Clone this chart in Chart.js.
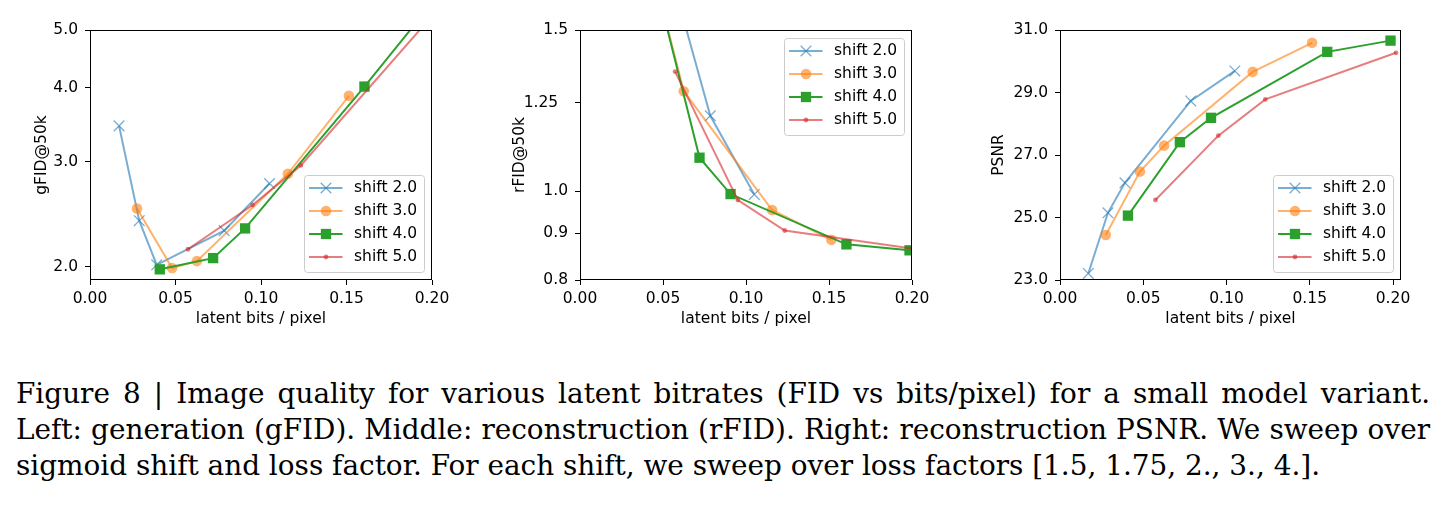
<!DOCTYPE html>
<html>
<head>
<meta charset="utf-8">
<script src="https://cdn.jsdelivr.net/npm/chart.js@4.4.1/dist/chart.umd.min.js"></script>
<style>
  body { margin: 0; background: #fff; width: 1448px; height: 508px; overflow: hidden; position: relative; }
  canvas { position: absolute; top: 0; }
  #caption { position: absolute; left: 16px; top: 376px; width: 1414px; font-family: "DejaVu Serif"; font-size: 27.9px; line-height: 36px; color: #000; }
  .j { text-align: justify; text-align-last: justify; }
</style>
</head>
<body>
<canvas id="gfid" width="460" height="335" style="left:0px"></canvas>
<canvas id="rfid" width="460" height="335" style="left:480px"></canvas>
<canvas id="psnr" width="470" height="335" style="left:960px"></canvas>
<div id="caption">
  <div class="j">Figure 8 | Image quality for various latent bitrates (FID vs bits/pixel) for a small model variant.</div>
  <div class="j">Left: generation (gFID). Middle: reconstruction (rFID). Right: reconstruction PSNR. We sweep over</div>
  <div>sigmoid shift and loss factor. For each shift, we sweep over loss factors [1.5, 1.75, 2., 3., 4.].</div>
</div>
<script>
// latent bits / pixel for each shift (one point per loss factor)
const bpp2 = [0.017, 0.0288, 0.039, 0.0785, 0.105];
const bpp3 = [0.0275, 0.048, 0.0625, 0.1157, 0.1514];
const bpp4 = [0.0408, 0.072, 0.0907, 0.1605, 0.1985];
const bpp5 = [0.0573, 0.0951, 0.1233, 0.2018];

// gFID@50k
const gfid2 = [3.45, 2.39, 2.015, 2.30, 2.76];
const gfid3 = [2.506, 1.99, 2.044, 2.866, 3.876];
const gfid4 = [1.98, 2.068, 2.32, 4.017, 5.48];
const gfid5 = [2.14, 2.54, 2.96, 5.35];

// rFID@50k
const rfid2 = [3.6, 2.8, 2.19, 1.209, 0.992];
const rfid3 = [2.6, 1.63, 1.286, 0.954, 0.885];
const rfid4 = [1.83, 1.088, 0.993, 0.875, 0.862];
const rfid5 = [1.351, 0.978, 0.906, 0.865];

// PSNR
const psnr2 = [23.21, 25.15, 26.11, 28.73, 29.69];
const psnr3 = [24.44, 26.47, 27.30, 29.66, 30.59];
const psnr4 = [25.06, 27.41, 28.19, 30.30, 30.66];
const psnr5 = [25.56, 27.62, 28.78, 30.27];

const seriesLabels = ["shift 2.0", "shift 3.0", "shift 4.0", "shift 5.0"];
const xTicks = [0, 0.05, 0.1, 0.15, 0.2];
const gfidTicks = [2, 3, 4, 5];
const gfidTickLabels = ["2.0", "3.0", "4.0", "5.0"];
const rfidTicks = [0.8, 0.9, 1.0, 1.25, 1.5];
const rfidTickLabels = ["0.8", "0.9", "1.0", "1.25\u2007", "1.5"];
const psnrTicks = [23, 25, 27, 29, 31];
const psnrTickLabels = ["23.0", "25.0", "27.0", "29.0", "31.0"];

const bpps = [bpp2, bpp3, bpp4, bpp5];

const markers = [
  { color: "rgba(31,119,180,0.6)", pointStyle: "crossRot", radius: 7.5, border: 1.3 },
  { color: "rgba(255,127,14,0.6)", pointStyle: "circle", radius: 5.3, border: 0 },
  { color: "rgb(44,160,44)", pointStyle: "rect", radius: 7.3, border: 0 },
  { color: "rgba(214,39,40,0.6)", pointStyle: "circle", radius: 2.4, border: 0 },
];

const font = { family: "DejaVu Sans", size: 15.5 };

function makeDatasets(ys) {
  return markers.map((m, i) => ({
    label: seriesLabels[i],
    data: bpps[i].map((x, j) => ({ x: x, y: ys[i][j] })),
    borderColor: m.color,
    backgroundColor: m.color,
    borderWidth: 2,
    pointStyle: m.pointStyle,
    pointRadius: m.radius,
    pointBorderWidth: m.border,
    pointBackgroundColor: m.color,
    pointBorderColor: m.color,
    tension: 0,
    order: 3 - i,
    clip: 0,
  }));
}

// box round the plot, like matplotlib spines
const frame = {
  id: "frame",
  afterDraw(chart) {
    const { ctx, chartArea: a } = chart;
    ctx.save();
    ctx.strokeStyle = "#000";
    ctx.lineWidth = 1;
    ctx.strokeRect(a.left + 0.5, a.top + 0.5, a.right - a.left - 1, a.bottom - a.top - 1);
    ctx.restore();
  },
};

// legend drawn inside the axes
const boxLegend = {
  id: "boxLegend",
  afterDraw(chart, args, opts) {
    const { ctx, chartArea: a } = chart;
    const w = 120, h = 97;
    const x0 = a.right - 8 - w;
    const y0 = opts.corner === "upper" ? a.top + 8 : a.bottom - 8 - h;
    ctx.save();
    ctx.beginPath();
    ctx.roundRect(x0 + 0.5, y0 + 0.5, w, h, 3);
    ctx.fillStyle = "rgba(255,255,255,0.8)";
    ctx.fill();
    ctx.strokeStyle = "#cccccc";
    ctx.lineWidth = 1;
    ctx.stroke();
    chart.data.datasets.forEach((ds, i) => {
      const y = y0 + 13 + i * 23;
      ctx.strokeStyle = ds.borderColor;
      ctx.fillStyle = ds.borderColor;
      ctx.lineWidth = 2;
      ctx.beginPath();
      ctx.moveTo(x0 + 5, y);
      ctx.lineTo(x0 + 38.5, y);
      ctx.stroke();
      ctx.lineWidth = ds.pointBorderWidth;
      Chart.helpers.drawPoint(ctx, { pointStyle: ds.pointStyle, radius: ds.pointRadius, borderWidth: ds.pointBorderWidth, rotation: 0 }, x0 + 22, y);
      ctx.fillStyle = "#000";
      ctx.font = font.size + "px " + font.family;
      ctx.textBaseline = "middle";
      ctx.textAlign = "left";
      ctx.fillText(ds.label, x0 + 50, y);
    });
    ctx.restore();
  },
};

function makeChart(id, cfg) {
  new Chart(document.getElementById(id), {
    type: "line",
    data: { datasets: makeDatasets(cfg.ys) },
    options: {
      responsive: false,
      animation: false,
      devicePixelRatio: 1,
      layout: { padding: { top: 30, right: cfg.padRight, left: 0, bottom: 0 } },
      plugins: {
        legend: { display: false },
        tooltip: { enabled: false },
        boxLegend: { corner: cfg.legendCorner },
      },
      scales: {
        x: {
          type: "linear",
          min: 0,
          max: cfg.xMax,
          afterBuildTicks: (s) => { s.ticks = xTicks.map((v) => ({ value: v })); },
          afterFit: (s) => { s.height = 55; },
          ticks: { callback: (v) => v.toFixed(2), padding: 5, color: "#000", font: font, autoSkip: false, maxRotation: 0 },
          grid: { drawOnChartArea: false, drawTicks: true, tickLength: 5, tickColor: "#000", tickWidth: 1 },
          border: { display: false },
          title: { display: true, text: "latent bits / pixel", color: "#000", font: font, padding: { top: 0, bottom: 7 } },
        },
        y: {
          type: cfg.yType,
          min: cfg.yMin,
          max: cfg.yMax,
          afterBuildTicks: (s) => { s.ticks = cfg.yTicks.map((v) => ({ value: v })); },
          afterFit: (s) => { s.width = cfg.yWidth; },
          ticks: { callback: (v, i) => cfg.yTickLabels[i], padding: 7, color: "#000", font: font, autoSkip: false },
          grid: { drawOnChartArea: false, drawTicks: true, tickLength: 5, tickColor: "#000", tickWidth: 1 },
          border: { display: false },
          title: { display: true, text: cfg.yTitle, color: "#000", font: font, padding: { top: cfg.yTitlePad, bottom: 0 } },
        },
      },
    },
    plugins: [frame, boxLegend],
  });
}

makeChart("gfid", {
  ys: [gfid2, gfid3, gfid4, gfid5],
  yType: "logarithmic", yMin: 1.9, yMax: 5.0,
  yTicks: gfidTicks, yTickLabels: gfidTickLabels,
  yTitle: "gFID@50k", yTitlePad: 33, yWidth: 90, padRight: 28,
  xMax: 0.2, legendCorner: "lower",
});
makeChart("rfid", {
  ys: [rfid2, rfid3, rfid4, rfid5],
  yType: "logarithmic", yMin: 0.8, yMax: 1.5,
  yTicks: rfidTicks, yTickLabels: rfidTickLabels,
  yTitle: "rFID@50k", yTitlePad: 31, yWidth: 100, padRight: 28,
  xMax: 0.2, legendCorner: "upper",
});
makeChart("psnr", {
  ys: [psnr2, psnr3, psnr4, psnr5],
  yType: "linear", yMin: 23, yMax: 31,
  yTicks: psnrTicks, yTickLabels: psnrTickLabels,
  yTitle: "PSNR", yTitlePad: 30, yWidth: 100, padRight: 29,
  xMax: 0.2048, legendCorner: "lower",
});
</script>
</body>
</html>
